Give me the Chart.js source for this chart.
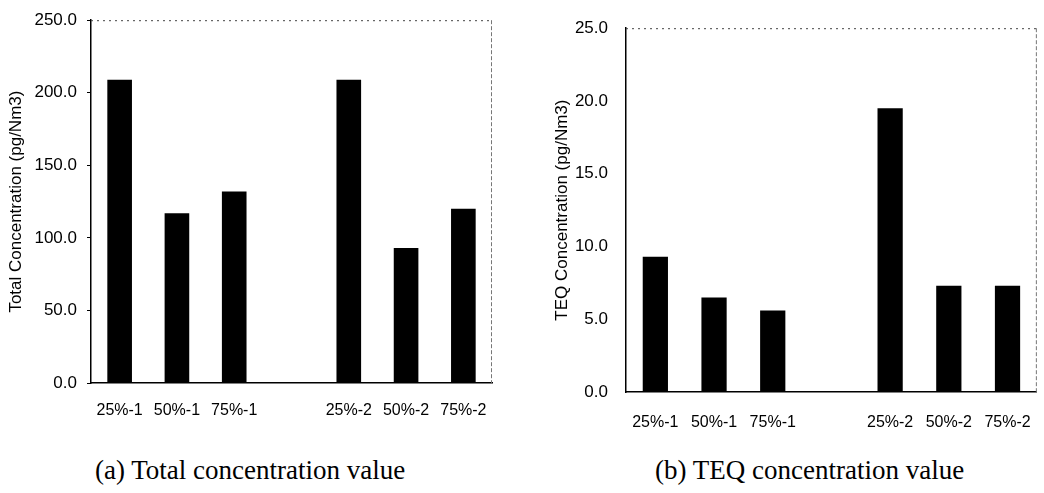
<!DOCTYPE html>
<html>
<head>
<meta charset="utf-8">
<script src="https://cdn.jsdelivr.net/npm/chart.js@4.4.1/dist/chart.umd.min.js"></script>
<style>
  html, body { margin: 0; padding: 0; background: #fff; }
  body { width: 1044px; height: 493px; position: relative; overflow: hidden; }
  canvas { position: absolute; top: 0; }
  #cA { left: 0; }
  #cB { left: 540px; }
  .cap { position: absolute; top: 454px; font-family: "Liberation Serif", "Times New Roman", serif; font-size: 27px; line-height: 32px; color: #000; white-space: nowrap; }
</style>
</head>
<body>
<canvas id="cA" width="510" height="440"></canvas>
<canvas id="cB" width="504" height="440"></canvas>
<div class="cap" id="capA" style="left:95px;">(a) Total concentration value</div>
<div class="cap" id="capB" style="left:655px;">(b) TEQ concentration value</div>
<script>
const categories = ["25%-1", "50%-1", "75%-1", "", "25%-2", "50%-2", "75%-2"];
const totalValues = [209, 117, 132, null, 209, 93, 120];
const teqValues = [9.3, 6.5, 5.6, null, 19.5, 7.3, 7.3];
const totalTicks = [0, 50, 100, 150, 200, 250];
const teqTicks = [0, 5, 10, 15, 20, 25];
const totalTitle = "Total Concentration (pg/Nm3)";
const teqTitle = "TEQ Concentration (pg/Nm3)";

const frame = {
  id: 'frame',
  afterDraw(chart) {
    const {ctx, chartArea: a} = chart;
    ctx.save();
    ctx.strokeStyle = '#444';
    ctx.lineWidth = 1;
    ctx.setLineDash([2, 4]);
    ctx.beginPath();
    ctx.moveTo(a.left, a.top + 0.5);
    ctx.lineTo(a.right, a.top + 0.5);
    ctx.stroke();
    ctx.setLineDash([4, 2]);
    ctx.strokeStyle = '#777';
    ctx.beginPath();
    ctx.moveTo(a.right - 0.5, a.top);
    ctx.lineTo(a.right - 0.5, a.bottom);
    ctx.stroke();
    ctx.restore();
  }
};

function makeChart(id, values, ticks, title, opts) {
  const fam = "'Liberation Sans', Arial, sans-serif";
  return new Chart(document.getElementById(id), {
    type: 'bar',
    data: {
      labels: categories,
      datasets: [{data: values, backgroundColor: '#000', borderWidth: 0,
                  categoryPercentage: 1, barPercentage: 0.43}]
    },
    options: {
      responsive: false,
      animation: false,
      devicePixelRatio: 1,
      layout: {padding: opts.padding},
      plugins: {legend: {display: false}, tooltip: {enabled: false}},
      scales: {
        x: {
          grid: {display: false},
          border: {display: true, color: '#000', width: 1.5},
          ticks: {color: '#000', font: {family: fam, size: 16}, padding: opts.xPad, maxRotation: 0, autoSkip: false},
          afterFit(s) { s.height = 40; }
        },
        y: {
          min: ticks[0], max: ticks[ticks.length - 1],
          afterBuildTicks(s) { s.ticks = ticks.map(v => ({value: v})); },
          grid: {display: true, drawOnChartArea: false, drawTicks: true, tickLength: opts.tickLen, color: '#000', lineWidth: 1},
          border: {display: true, color: '#000', width: 1.5},
          ticks: {color: '#000', font: {family: fam, size: 17}, padding: opts.yPad, callback: v => Number(v).toFixed(1)},
          title: {display: true, text: title, color: '#000',
                  font: {family: fam, size: opts.titleSize},
                  padding: {top: opts.titlePad, bottom: 0}},
          afterFit(s) { s.width = opts.yWidth; }
        }
      }
    },
    plugins: [frame]
  });
}

makeChart('cA', totalValues, totalTicks, totalTitle,
  {padding: {left: 0, right: 18, top: 16, bottom: 17}, xPad: 10, yPad: 10, tickLen: 4, titleSize: 17, titlePad: 6, yWidth: 91});
makeChart('cB', teqValues, teqTicks, teqTitle,
  {padding: {left: 0, right: 5, top: 17, bottom: 8}, xPad: 13, yPad: 18, tickLen: 0, titleSize: 17, titlePad: 12, yWidth: 86});
</script>
</body>
</html>
